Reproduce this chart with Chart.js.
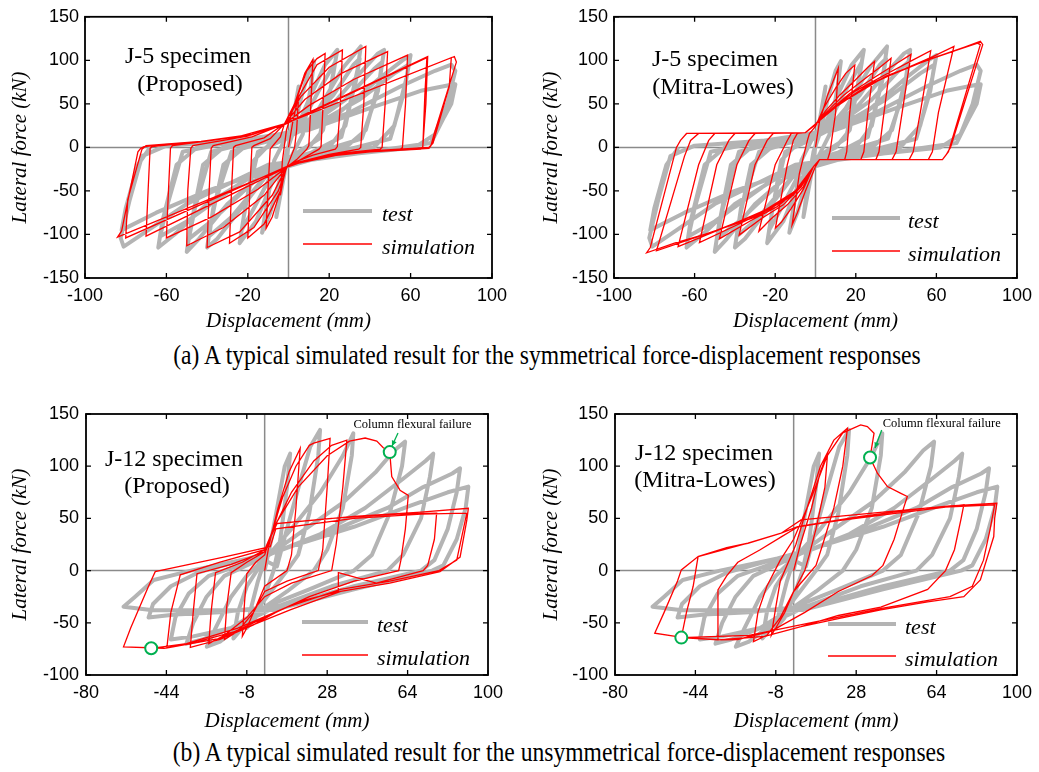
<!DOCTYPE html>
<html>
<head>
<meta charset="utf-8">
<script src="https://cdn.jsdelivr.net/npm/chart.js@4/dist/chart.umd.min.js"></script>
<style>
  body { margin: 0; background: #fff; width: 1039px; height: 772px; position: relative; overflow: hidden; }
  canvas { position: absolute; }
  .cap { position: absolute; font-family: "Liberation Serif", "Times New Roman", serif; font-size: 23.6px; line-height: 24px;
         white-space: nowrap; transform: translateX(-50%) scaleY(1.15); color: #000; }
</style>
</head>
<body>
<canvas id="c1" width="520" height="340" style="left:0;top:0"></canvas>
<canvas id="c2" width="519" height="340" style="left:520px;top:0"></canvas>
<canvas id="c3" width="520" height="345" style="left:0;top:390px"></canvas>
<canvas id="c4" width="519" height="345" style="left:520px;top:390px"></canvas>
<div class="cap" style="left:547px;top:343px">(a) A typical simulated result for the symmetrical force-displacement responses</div>
<div class="cap" style="left:559px;top:740px">(b) A typical simulated result for the unsymmetrical force-displacement responses</div>
<script>
// Axis ticks
const topXTicks = [-100, -60, -20, 20, 60, 100];
const topYTicks = [-150, -100, -50, 0, 50, 100, 150];
const bottomXTicks = [-80, -44, -8, 28, 64, 100];
const bottomYTicks = [-100, -50, 0, 50, 100, 150];

// J-5 test (displacement mm, force kN)
const j5Test = [
  [0,0],[2,30],[5,70],[3,40],[0,2],[-2,-30],[-6,-80],[-4,-45],[-1,-5],[2,15],
  [6,55],[10,88],[12.6,99],[11,70],[7,15],[2,-8],[-4,-35],[-9,-75],[-13,-98],[-11,-70],[-7,-15],[-2,8],
  [4,22],[10,55],[18,95],[24,112],[22,85],[17,20],[10,0],[0,-12],[-8,-40],[-16,-85],[-24,-110],[-22,-80],[-17,-15],[-10,2],[0,12],
  [8,35],[16,70],[23,98],[21,70],[15,10],[5,-5],[-8,-30],[-17,-70],[-23,-95],[-21,-65],[-15,-5],[-5,6],
  [5,18],[15,45],[27,92],[35.5,116],[34,90],[28,25],[20,0],[5,-10],[-10,-30],[-25,-75],[-35,-105],[-40,-115],[-38,-85],[-32,-20],[-22,0],[-5,10],
  [10,30],[22,60],[32,95],[35,102],[33,75],[26,12],[12,-5],[-12,-35],[-28,-80],[-39,-102],[-37,-70],[-28,-5],[-12,6],
  [5,20],[20,45],[35,85],[44,108],[47,112],[45,80],[38,20],[28,0],[10,-8],[-10,-25],[-30,-65],[-44,-105],[-50,-120],[-48,-90],[-42,-20],[-32,0],[-10,8],
  [10,25],[28,55],[42,90],[46,98],[44,65],[36,10],[15,-5],[-15,-35],[-38,-85],[-49,-105],[-46,-70],[-38,-5],[-15,8],
  [5,18],[25,40],[45,80],[56,100],[60,106],[58,80],[52,25],[42,0],[20,-8],[-10,-22],[-40,-65],[-56,-100],[-64,-115],[-62,-85],[-55,-20],[-45,0],[-20,8],
  [10,22],[35,55],[52,85],[59,95],[57,65],[50,10],[25,-5],[-20,-35],[-50,-85],[-63,-102],[-60,-70],[-52,-5],[-25,8],
  [5,18],[30,40],[55,70],[72,88],[80,95],[82,88],[78,50],[72,15],[62,0],[30,-8],[-10,-20],[-50,-65],[-72,-100],[-81,-114],[-82.5,-104],[-78,-60],[-72,-10],[-60,2],[-25,8],
  [10,20],[40,45],[65,65],[80,72],[82,72.5],[80,50],[76.5,35],[70,5],[40,-5],[0,-18],[-40,-50],[-65,-75],[-82,-95],[-80,-70],[-74,-20],[-68,0]
];

// J-5 simulation, proposed model
const j5Proposed = [
  [0,0],[2,28],[5,60],[4,20],[3,0],[0,-18],[-2,-30],[-4,-55],[-3,-15],[-2,2],[-1,20],
  [3,50],[8,85],[12,101],[11,50],[10,2],[9,-2],[4,-14],[-1,-23],[-4,-50],[-8,-80],[-11,-93],[-10,-45],[-9,-2],[-8,1],[-4,12],[-2,27],
  [3,50],[9,88],[14,102],[18,108],[17,50],[16,1],[15,-2],[6,-14],[-1,-23],[-4,-50],[-12,-88],[-20,-104],[-19,-50],[-18,0],[-17,2],[-9,10],[-2,27],
  [5,58],[14,95],[26.5,112],[25.5,50],[24,1],[23,-2],[12,-9],[4,-16],[-1,-23],[-5,-50],[-17,-92],[-29,-110],[-28,-50],[-27,0],[-26,2],[-12,11],[-2,27],
  [6,58],[20,92],[38,116],[37,50],[35.5,0],[34.5,-2],[20,-8],[5,-17],[-1,-23],[-8,-55],[-24,-97],[-40,-115],[-39,-50],[-38,-1],[-37,2],[-18,12],[-2,27],
  [8,55],[26,85],[48.7,110],[47.5,50],[46,0],[45,-2],[25,-7],[5,-18],[-1,-23],[-12,-55],[-32,-92],[-50,-113],[-49.5,-50],[-48,-1],[-47,2],[-20,13],[-2,27],
  [10,48],[32,78],[58.5,106],[57.5,50],[56,0],[55,-2],[30,-6],[5,-18],[-1,-23],[-15,-48],[-38,-80],[-60,-104],[-59,-50],[-58,-1],[-57,2],[-25,12],[-2,27],
  [68.4,104.4],[67.5,50],[66,1],[65,-2],[40,-5],[20,-10],[5,-18],[-1,-23],[-70,-102],[-69,-50],[-68,-1],[-67,1],[-43,7],[-18.5,14],[-2,27],
  [81.5,104.4],[82.5,98],[71.5,15],[70,2],[69,-1],[40,-5],[20,-10],[5,-18],[-1,-23],[-84,-103],[-82,-96],[-74,-5],[-72.6,-1],[-71,1],[-43,7],[-18.5,14],[-2,27],
  [80,103],[79,70],[71,5],[69,0],[40,-4],[20,-9],[5,-17],[-1,-22],[-80,-104],[-79,-60],[-72,-2],[-70,2],[-43,7],[-18,15],[-2,26],[68,103],[67,60],[66,0]
];

// J-5 simulation, Mitra-Lowes model
const j5Mitra = [
  [0,0],[2,30],[6,60],[11.3,91],[10,40],[7.2,-5],[6,-14],[2,-14],[0,-22],[-5,-50],[-9,-75],[-11.6,-89],[-8,-30],[-4,8],[-3,16],[0,24],
  [4,45],[10,68],[15,85],[19.5,94.6],[17,40],[15.5,-5],[14.5,-14],[2,-14],[-1,-22],[-6,-48],[-12,-70],[-17,-86],[-19.9,-92.7],[-14,-20],[-11,8],[-9,16],[-5,17],[0,26],
  [5,42],[12,60],[20,78],[26,92],[29.3,98.9],[26,40],[24,-5],[22.5,-14],[2,-14],[-1,-22],[-6,-45],[-14,-66],[-22,-82],[-28.1,-96.3],[-20,-20],[-14,8],[-12,16],[-5,17],[0,27],
  [6,42],[14,60],[24,78],[32,92],[37.5,102.4],[34,40],[31.5,-5],[30,-14],[2,-14],[-1,-22],[-7,-45],[-16,-66],[-27,-82],[-37.9,-100.7],[-30,-20],[-24,8],[-21,16],[-5,17],[0,27],
  [7,42],[17,62],[29,80],[40,96],[47.4,106.8],[43,40],[40,-5],[38,-14],[2,-14],[-1,-22],[-8,-47],[-19,-68],[-32,-84],[-47.7,-105],[-39,-20],[-33,8],[-30,16],[-5,17],[0,27],
  [8,44],[20,65],[35,84],[48,100],[57.2,111],[52,40],[48.5,-5],[46.5,-14],[2,-14],[-1,-22],[-9,-48],[-22,-70],[-38,-88],[-57.6,-109.4],[-49,-20],[-43,8],[-40,16],[-5,17],[0,27],
  [10,47],[25,70],[42,88],[58,104],[68.7,116],[61,40],[58,-5],[56,-14],[2,-14],[-1,-22],[-10,-50],[-25,-72],[-45,-92],[-68.2,-114],[-58,-20],[-53,8],[-50,16],[-5,17],[0,27],
  [11,48],[28,74],[50,96],[68,110],[81.8,122],[83,118],[67,0],[65,-8],[63,-14],[2,-14],[-1,-22],[-10,-52],[-28,-76],[-52,-98],[-70,-110],[-83.8,-121],[-82,-115],[-69,0],[-67,8],[-64,16],[-5,17],[0,27],
  [12,50],[30,76],[55,100],[80,120],[81.8,118],[66,-5],[63,-14],[2,-14],[-1,-22],[-11,-55],[-30,-80],[-55,-100],[-78.9,-118.8],[-65,-10],[-62,8],[-58,16],[-5,17],[0,27],
  [12,50],[35,82],[60,104],[82,121]
];

// J-12 test
const j12Test = [
  [0,0],[3,30],[6,65],[9,100],[11.4,112],[10,80],[7,30],[4,0],[0,-25],[-4,-45],[-8,-55],[-6,-35],[-3,-10],[0,10],
  [5.5,4],[10,40],[14.4,74],[20.4,118.7],[24.8,134.7],[24,110],[20,55],[15,15],[10,0],[0,-28],[-8,-50],[-14,-65],[-12,-40],[-8,-15],[-2,5],[3,18],
  [12,40],[25,75],[35,110],[39.7,131.5],[39,110],[35,60],[28,20],[22,0],[10,-20],[0,-35],[-12,-55],[-20,-68],[-25.9,-72.9],[-22,-55],[-15,-25],[-8,-5],[0,12],
  [15,35],[35,65],[50,95],[58,115],[62.9,123.5],[61.5,100],[56,55],[48,15],[40,0],[20,-18],[0,-35],[-15,-55],[-28,-66],[-35,-70],[-32,-50],[-26,-25],[-18,-5],[-5,8],[5,18],
  [25,35],[45,60],[62,88],[72,105],[75.5,112],[74,90],[70,50],[62,15],[55,0],[30,-15],[5,-35],[-15,-55],[-32,-63],[-42,-66],[-40,-45],[-34,-22],[-25,-5],[-5,10],[8,20],
  [30,38],[55,60],[71,80],[84,93],[87.5,98],[86,75],[82,40],[76,10],[70,0],[40,-15],[10,-33],[-20,-40],[-40,-42],[-52,-45],[-50,-32],[-42,-15],[-30,-2],[-10,10],[10,22],
  [40,42],[65,62],[82,75],[91.2,80.4],[90,60],[86,30],[80,5],[75,0],[40,-18],[4,-37.7],[-30,-38],[-50,-38],[-63.2,-34.6],[-58,-25],[-49.7,-9],[-33,0],[-15,8],[0,15]
];

// J-12 simulation, proposed model
const j12Proposed = [
  [0,0],[2,25],[6,60],[11,95],[15.9,117],[14,60],[12,15],[10,0],[0,-15],[-4,-35],[-8,-55],[-10,-63],[-9,-30],[-8,-3],[-4,8],[0,15],
  [3,35],[8,70],[14,100],[20,120],[22,122],[29.3,126.7],[28,80],[26,20],[24,0],[10,-10],[0,-20],[-5,-40],[-12,-58],[-18,-66],[-17,-35],[-15,-2],[-8,8],[0,18],
  [4,40],[12,75],[22,105],[30,120],[36.8,125],[35,80],[32,25],[30,0],[12,-12],[0,-25],[-8,-45],[-18,-62],[-25,-70],[-24,-40],[-22,-2],[-10,8],[0,20],
  [5,45],[15,80],[28,110],[38,124],[45,127],[50.2,124],[53,118],[56,113.5],[56.9,90],[60.6,77],[64.3,72],[63,40],[61,10],[60,0],[40,-10],[20,-25],[5,-40],[-5,-52],[-20,-66],[-33.3,-73.5],[-32,-40],[-30.3,-3],[-15,6],[0,18],
  [5,45],[30,50],[60,54],[77,55],[76,30],[73,5],[71,0],[50,-12],[33,-2],[33,-20],[15,-30],[0,-45],[-20,-65],[-43.8,-74],[-42,-40],[-37.8,-4],[-20,8],[0,20],
  [5.5,45],[40,52],[70,56],[91.2,59.7],[90.5,48],[87.5,13],[78.5,-1],[56,-12],[34,-20],[11.4,-37.7],[-11,-57],[-30,-68],[-45,-74.4],[-63.2,-73],[-60,-55],[-52,-15],[-49,-1],[-47,0],[-18.4,13],[2.5,23],
  [5,40],[40,50],[70,54],[90.5,55],[89,40],[86,10],[78,0],[56,-10],[34,-18],[10,-35],[-12,-55],[-35,-70],[-50.8,-74.4]
];

// J-12 simulation, Mitra-Lowes model
const j12Mitra = [
  [0,0],[3,25],[8,60],[12,95],[15.2,112.5],[14,80],[10,40],[7,15],[5,0],[0,-20],[-4,-40],[-8,-55],[-10,-62],[-8,-35],[-6,-10],[-2,10],[1,25],
  [6,60],[12,100],[18,125],[24.1,136.4],[22,100],[18,60],[13,25],[10,5],[0,-20],[-6,-45],[-12,-62],[-18,-68],[-16,-40],[-12,-15],[-6,10],[0,30],
  [8,70],[15,110],[22,132],[30,139.6],[33,138],[36,131.6],[34.2,108.3],[37.5,93.3],[42,80.5],[48,74],[50.9,71],[49.4,61],[45,30],[40,5],[35,-5],[20,-20],[5,-40],[-10,-58],[-25,-66],[-33.9,-66.4],[-33.9,-18.5],[-30,-5],[-25,8],[-15,20],[-5,33],[2,42],
  [20,48],[50,56],[76.2,63],[75,50],[72,20],[68,0],[60,-18],[39,-35],[20,-43],[3.3,-53.6],[-13,-63],[-33.9,-66.4],[-50.3,-64.2],[-48,-40],[-45,-15],[-42.8,13.4],[-30,22],[-20.5,26.2],[-5.6,35.8],[3.3,48.6],
  [40,56],[70,62],[91,64.5],[90,50],[89.6,32.6],[83.6,-9],[76.2,-25],[60,-30],[39,-37.6],[20,-46],[3.3,-53.6],[-13,-63],[-32.4,-66.4],[-50,-64],[-62.2,-60],[-58,-40],[-52,-10],[-50.3,0.7],[-42.8,13.4],[-20.5,26.2],[-5.6,35.8],[1.8,42],
  [30,52],[60,60],[90,63],[88,40],[85,10],[80,-15],[70,-25],[40,-36],[3,-52],[-20,-62],[-50.3,-64.2]
];

// Column flexural failure points
const j12ProposedFailure = [[56, 113.5], [-50.8, -74.4]];
const j12MitraFailure = [[34.2, 108.3], [-50.3, -64.2]];

Chart.defaults.font.family = '"Liberation Sans", Arial, sans-serif';
Chart.defaults.color = '#000';
const serif = '"Liberation Serif", "Times New Roman", serif';
const green = '#00b050';

const toXY = arr => arr.map(p => ({ x: p[0], y: p[1] }));

// zero lines, boxed frame with inward ticks, texts and legend
const decor = {
  id: 'decor',
  beforeDatasetsDraw(chart) {
    const { ctx, chartArea: a, scales: { x, y } } = chart;
    const x0 = x.getPixelForValue(0), y0 = y.getPixelForValue(0);
    ctx.save();
    ctx.strokeStyle = '#8a8a8a';
    ctx.lineWidth = 1.5;
    ctx.beginPath();
    ctx.moveTo(x0, a.top); ctx.lineTo(x0, a.bottom);
    ctx.moveTo(a.left, y0); ctx.lineTo(a.right, y0);
    ctx.stroke();
    ctx.restore();
  },
  afterDatasetsDraw(chart) {
    const { ctx, chartArea: a, scales: { x, y } } = chart;
    ctx.save();
    ctx.strokeStyle = '#000';
    ctx.lineWidth = 1.3;
    ctx.beginPath();
    x.ticks.forEach(t => {
      const px = x.getPixelForValue(t.value);
      ctx.moveTo(px, a.bottom); ctx.lineTo(px, a.bottom - 5);
      ctx.moveTo(px, a.top); ctx.lineTo(px, a.top + 5);
    });
    y.ticks.forEach(t => {
      const py = y.getPixelForValue(t.value);
      ctx.moveTo(a.left, py); ctx.lineTo(a.left + 5, py);
      ctx.moveTo(a.right, py); ctx.lineTo(a.right - 5, py);
    });
    ctx.stroke();
    ctx.lineWidth = 1.8;
    ctx.strokeRect(a.left, a.top, a.right - a.left, a.bottom - a.top);
    ctx.restore();
  },
  afterDraw(chart, args, o) {
    const ctx = chart.ctx;
    ctx.save();
    ctx.fillStyle = '#000';
    ctx.textAlign = 'center';
    ctx.textBaseline = 'middle';
    ctx.font = '24px ' + serif;
    o.name.forEach((s, i) => ctx.fillText(s, o.nameX[i], o.nameY[i]));

    // legend
    const L = o.legend;
    ctx.lineCap = 'butt';
    ctx.strokeStyle = '#b4b4b4'; ctx.lineWidth = 4;
    ctx.beginPath(); ctx.moveTo(L.x0, L.yTest); ctx.lineTo(L.x1, L.yTest); ctx.stroke();
    ctx.strokeStyle = '#ff0000'; ctx.lineWidth = 1.5;
    ctx.beginPath(); ctx.moveTo(L.x0, L.ySim); ctx.lineTo(L.x1, L.ySim); ctx.stroke();
    ctx.textAlign = 'left';
    ctx.font = 'italic 22px ' + serif;
    ctx.fillText('test', L.textX, L.yTest + 4);
    ctx.fillText('simulation', L.textX, L.ySim + 4);

    if (o.note) {
      const n = o.note;
      ctx.textAlign = 'center';
      ctx.font = '12.5px ' + serif;
      ctx.fillText(n.text, n.x, n.y);
      ctx.strokeStyle = green; ctx.fillStyle = green; ctx.lineWidth = 1.3;
      ctx.beginPath(); ctx.moveTo(n.ax0, n.ay0); ctx.lineTo(n.ax1, n.ay1); ctx.stroke();
      const ang = Math.atan2(n.ay1 - n.ay0, n.ax1 - n.ax0);
      ctx.beginPath();
      ctx.moveTo(n.ax1, n.ay1);
      ctx.lineTo(n.ax1 - 6 * Math.cos(ang - 0.45), n.ay1 - 6 * Math.sin(ang - 0.45));
      ctx.lineTo(n.ax1 - 6 * Math.cos(ang + 0.45), n.ay1 - 6 * Math.sin(ang + 0.45));
      ctx.closePath(); ctx.fill();
    }
    ctx.restore();
  }
};

function makePanel(id, p) {
  const ctx = document.getElementById(id).getContext('2d');
  const datasets = [
    { label: 'simulation', data: toXY(p.sim), showLine: true, borderColor: '#ff0000', borderWidth: 1.3,
      pointRadius: 0, tension: 0, order: 2 },
    { label: 'test', data: toXY(p.test), showLine: true, borderColor: '#b4b4b4', borderWidth: 4,
      borderJoinStyle: 'round', pointRadius: 0, tension: 0, order: 3 }
  ];
  if (p.fail) {
    datasets.push({ label: 'failure', data: toXY(p.fail), showLine: false, pointRadius: 6,
      pointBorderWidth: 2, pointBorderColor: green, pointBackgroundColor: '#fff', order: 1 });
  }
  return new Chart(ctx, {
    type: 'scatter',
    data: { datasets },
    options: {
      responsive: false,
      animation: false,
      layout: { padding: { left: 0, right: p.padRight, top: p.padTop, bottom: 0 } },
      plugins: {
        legend: { display: false },
        tooltip: { enabled: false },
        decor: p.decor
      },
      scales: {
        x: {
          type: 'linear',
          min: p.xTicks[0],
          max: p.xTicks[p.xTicks.length - 1],
          afterBuildTicks: s => { s.ticks = p.xTicks.map(v => ({ value: v })); },
          afterFit: s => { s.height = p.xHeight; },
          grid: { display: false, drawTicks: false },
          border: { display: false },
          ticks: { font: { size: 18 }, padding: p.xLabelPad, maxRotation: 0, autoSkip: false },
          title: { display: true, text: 'Displacement (mm)',
            font: { family: serif, size: 21, style: 'italic' }, padding: { top: 0, bottom: p.xTitlePad } }
        },
        y: {
          type: 'linear',
          min: p.yTicks[0],
          max: p.yTicks[p.yTicks.length - 1],
          afterBuildTicks: s => { s.ticks = p.yTicks.map(v => ({ value: v })); },
          afterFit: s => { s.width = p.yWidth; },
          grid: { display: false, drawTicks: false },
          border: { display: false },
          ticks: { font: { size: 18 }, padding: p.yLabelPad, autoSkip: false },
          title: { display: true, text: 'Lateral force (kN)',
            font: { family: serif, size: 21, style: 'italic' }, padding: { top: p.yTitlePad, bottom: 0 } }
        }
      }
    },
    plugins: [decor]
  });
}

makePanel('c1', {
  xTicks: topXTicks, yTicks: topYTicks, test: j5Test, sim: j5Proposed,
  yWidth: 85, padRight: 28, padTop: 12, xHeight: 62,
  yTitlePad: 7.4, yLabelPad: 6, xLabelPad: 7, xTitlePad: 5.7,
  decor: {
    name: ['J-5 specimen', '(Proposed)'], nameX: [188, 190], nameY: [57, 85],
    legend: { x0: 303, x1: 372, yTest: 211, ySim: 244, textX: 382 }
  }
});

makePanel('c2', {
  xTicks: topXTicks, yTicks: topYTicks, test: j5Test, sim: j5Mitra,
  yWidth: 94, padRight: 18, padTop: 12, xHeight: 62,
  yTitlePad: 19, yLabelPad: 6, xLabelPad: 7, xTitlePad: 5.7,
  decor: {
    name: ['J-5 specimen', '(Mitra-Lowes)'], nameX: [195, 203], nameY: [60, 88],
    legend: { x0: 312, x1: 380, yTest: 218, ySim: 251, textX: 388 }
  }
});

makePanel('c3', {
  xTicks: bottomXTicks, yTicks: bottomYTicks, test: j12Test, sim: j12Proposed, fail: j12ProposedFailure,
  yWidth: 86, padRight: 32, padTop: 24, xHeight: 60,
  yTitlePad: 7.4, yLabelPad: 7, xLabelPad: 7, xTitlePad: 0.7,
  decor: {
    name: ['J-12 specimen', '(Proposed)'], nameX: [174, 177], nameY: [70, 97],
    legend: { x0: 302, x1: 368, yTest: 232, ySim: 265, textX: 377 },
    note: { text: 'Column flexural failure', x: 412.5, y: 35, ax0: 398, ay0: 43, ax1: 392, ay1: 56 }
  }
});

makePanel('c4', {
  xTicks: bottomXTicks, yTicks: bottomYTicks, test: j12Test, sim: j12Mitra, fail: j12MitraFailure,
  yWidth: 95, padRight: 21, padTop: 24, xHeight: 60,
  yTitlePad: 19, yLabelPad: 6.7, xLabelPad: 7, xTitlePad: 0.7,
  decor: {
    name: ['J-12 specimen', '(Mitra-Lowes)'], nameX: [184, 185], nameY: [64, 91],
    legend: { x0: 308, x1: 376, yTest: 234, ySim: 266, textX: 385 },
    note: { text: 'Column flexural failure', x: 421.7, y: 34, ax0: 361.7, ay0: 40, ax1: 355, ay1: 58 }
  }
});
</script>
</body>
</html>
